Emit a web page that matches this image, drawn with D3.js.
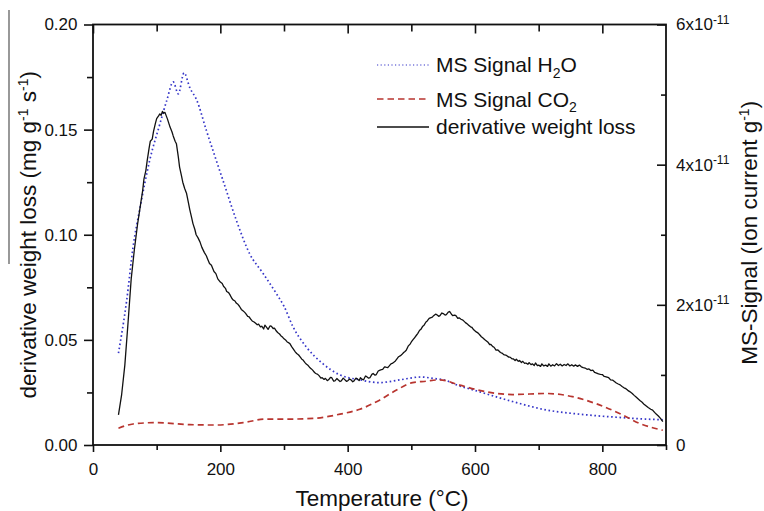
<!DOCTYPE html>
<html>
<head>
<meta charset="utf-8">
<script src="https://cdn.jsdelivr.net/npm/d3@7"></script>
<style>
  html, body { margin: 0; padding: 0; background: #fff; }
  svg { display: block; font-family: "Liberation Sans", Arial, sans-serif; }
</style>
</head>
<body>
<svg id="chart" width="764" height="511"></svg>
<script>
// Derivative weight loss, [temperature °C, mg g^-1 s^-1]
const dtgCurve = [
  [40,0.0143],[45,0.024],[50,0.038],[55,0.058],[60,0.079],[65,0.093],[70,0.105],[73,0.111],
  [75,0.115],[78,0.121],[80,0.1265],[83,0.1305],[85,0.135],[88,0.141],[90,0.1445],[93,0.1455],
  [95,0.149],[98,0.153],[100,0.1552],[103,0.1565],[105,0.1575],[107,0.1568],[109,0.1587],
  [111,0.1578],[113,0.1582],[117,0.155],[121,0.1512],[124,0.149],[126,0.147],[129,0.1445],
  [131,0.1433],[134,0.137],[136,0.1322],[139,0.128],[141,0.125],[144,0.122],[147,0.1196],
  [150,0.115],[152,0.112],[155,0.108],[157,0.1053],[160,0.1025],[162,0.100],[165,0.0985],
  [168,0.0966],[171,0.094],[175,0.0915],[178,0.090],[180,0.0885],[183,0.0863],[186,0.0855],
  [190,0.0825],[193,0.0815],[196,0.079],[200,0.0775],[203,0.0768],[205,0.0755],[208,0.0745],
  [210,0.073],[213,0.0725],[215,0.0715],[218,0.0698],[220,0.069],[223,0.0685],[225,0.0675],
  [228,0.0668],[230,0.066],[233,0.0645],[235,0.064],[238,0.0632],[240,0.0625],[243,0.0612],
  [245,0.061],[248,0.0598],[250,0.059],[253,0.0585],[255,0.058],[258,0.0572],[260,0.0575],
  [263,0.0562],[265,0.0565],[268,0.0552],[270,0.057],[273,0.0558],[275,0.055],[278,0.0566],
  [280,0.0565],[283,0.0554],[285,0.0556],[288,0.0542],[290,0.0535],[293,0.0528],[295,0.052],
  [298,0.0512],[300,0.0505],[303,0.0498],[305,0.049],[307,0.0487],[309,0.0483],[312,0.0468],
  [315,0.0455],[318,0.0442],[320,0.0435],[323,0.0428],[325,0.042],[328,0.0408],[330,0.0404],
  [333,0.0392],[335,0.0385],[338,0.0378],[340,0.037],[343,0.0362],[345,0.0356],[348,0.0345],
  [350,0.034],[353,0.0336],[355,0.033],[358,0.0318],[360,0.032],[363,0.0312],[365,0.0317],
  [368,0.0306],[370,0.031],[373,0.0322],[375,0.032],[378,0.0304],[380,0.0305],[383,0.0316],
  [385,0.031],[388,0.0302],[390,0.0305],[393,0.0318],[395,0.0312],[398,0.0303],[400,0.0305],
  [403,0.0314],[405,0.031],[408,0.0301],[410,0.0305],[413,0.0318],[415,0.0315],[418,0.0306],
  [420,0.032],[423,0.0312],[425,0.031],[428,0.0328],[430,0.0325],[433,0.0318],[435,0.032],
  [438,0.0336],[440,0.034],[443,0.0332],[445,0.0335],[448,0.0352],[450,0.0355],[453,0.0358],
  [455,0.036],[458,0.0372],[460,0.037],[463,0.0368],[465,0.0375],[468,0.0386],[470,0.0388],
  [473,0.0395],[475,0.040],[478,0.0412],[480,0.042],[483,0.0425],[485,0.043],[488,0.044],
  [490,0.0445],[492,0.0451],[495,0.047],[498,0.048],[500,0.049],[503,0.0502],[505,0.051],
  [508,0.0522],[510,0.053],[513,0.0546],[515,0.055],[518,0.0565],[520,0.057],[523,0.0585],
  [525,0.059],[528,0.0602],[530,0.0605],[533,0.0608],[535,0.0615],[538,0.0622],[540,0.062],
  [543,0.0612],[545,0.0615],[548,0.0628],[550,0.0625],[553,0.0618],[555,0.062],[558,0.0632],
  [560,0.0635],[563,0.0622],[565,0.0615],[568,0.0618],[570,0.0615],[573,0.0602],[575,0.0605],
  [578,0.0598],[581,0.0594],[585,0.0582],[588,0.0575],[590,0.057],[593,0.0562],[595,0.056],
  [598,0.0548],[602,0.0538],[605,0.0532],[608,0.0522],[610,0.0515],[613,0.0508],[615,0.0502],
  [618,0.0495],[620,0.049],[623,0.0478],[625,0.0478],[628,0.0468],[630,0.0465],[633,0.0451],
  [636,0.0452],[640,0.044],[643,0.0436],[645,0.043],[648,0.0428],[650,0.0425],[653,0.0418],
  [655,0.0418],[658,0.041],[660,0.041],[663,0.0402],[665,0.0408],[668,0.0398],[670,0.0402],
  [673,0.0392],[675,0.0398],[678,0.0388],[680,0.039],[683,0.0384],[685,0.0392],[688,0.0382],
  [690,0.0386],[693,0.0378],[695,0.039],[698,0.0378],[700,0.038],[703,0.0374],[705,0.0386],
  [708,0.0376],[711,0.038],[714,0.0374],[716,0.0386],[719,0.0375],[722,0.0382],[725,0.0376],
  [728,0.0387],[731,0.0378],[734,0.0384],[737,0.0376],[740,0.0383],[743,0.0378],[746,0.0386],
  [749,0.0376],[752,0.0382],[755,0.0375],[758,0.0381],[761,0.0374],[764,0.038],[767,0.0372],
  [770,0.0368],[773,0.0366],[776,0.036],[779,0.0362],[782,0.0354],[785,0.0356],[788,0.0345],
  [791,0.0342],[794,0.0338],[797,0.0336],[800,0.0335],[803,0.0326],[806,0.0324],[810,0.032],
  [813,0.031],[816,0.0309],[819,0.0302],[822,0.0295],[825,0.029],[828,0.0286],[831,0.0278],
  [834,0.0272],[837,0.0268],[840,0.026],[843,0.0254],[847,0.0245],[850,0.0236],[853,0.0228],
  [856,0.022],[859,0.0212],[862,0.0205],[865,0.0195],[868,0.0188],[872,0.0178],[876,0.017],
  [879,0.0166],[882,0.0155],[885,0.0146],[888,0.0138],[891,0.0128],[895,0.0111]
];

// MS ion current for H2O, [temperature °C, ion current in 1e-11 A g^-1]
const h2oSignal = [
  [40,1.31],[53,2.07],[63,2.83],[74,3.39],[89,4.06],[105,4.58],[116,4.92],[126,5.18],
  [134,5.01],[143,5.31],[152,5.10],[163,4.92],[178,4.49],[204,3.78],[225,3.21],[246,2.73],
  [267,2.45],[288,2.16],[300,1.98],[314,1.69],[335,1.40],[361,1.16],[388,1.00],[419,0.93],
  [450,0.89],[482,0.93],[515,0.97],[534,0.95],[555,0.92],[565,0.88],[607,0.76],[659,0.62],
  [712,0.50],[764,0.44],[816,0.40],[868,0.37],[895,0.36]
];

// MS ion current for CO2, [temperature °C, ion current in 1e-11 A g^-1]
const co2Signal = [
  [40,0.24],[63,0.30],[100,0.32],[152,0.29],[194,0.285],[236,0.32],[272,0.37],[309,0.37],
  [346,0.38],[388,0.44],[419,0.51],[450,0.64],[476,0.78],[502,0.89],[523,0.91],[544,0.93],
  [576,0.855],[607,0.78],[659,0.72],[712,0.735],[753,0.69],[790,0.59],[827,0.45],[858,0.31],
  [895,0.21]
];

// Axis ticks
const tempMajor = [0, 200, 400, 600, 800];
const tempMinor = [100, 300, 500, 700, 900];
const rateMajor = [0, 0.05, 0.10, 0.15, 0.20];
const rateMinor = [0.025, 0.075, 0.125, 0.175];
const ionMajor = [0, 2, 4, 6];
const ionMinor = [1, 3, 5];

const svg = d3.select("#chart");
const plotLeft = 93, plotRight = 666, plotTop = 24.5, plotBottom = 445;

const x = d3.scaleLinear().domain([0, 900]).range([plotLeft, plotRight]);
const yL = d3.scaleLinear().domain([0, 0.2]).range([plotBottom, plotTop]);
const yR = d3.scaleLinear().domain([0, 6]).range([plotBottom, plotTop]);

const tickFont = 17;

function styleAxis(g) {
  g.select(".domain").remove();
  g.selectAll(".tick line").attr("stroke", "#111").attr("stroke-width", 1.6);
  g.selectAll(".tick text").attr("fill", "#111").attr("font-size", tickFont)
    .attr("font-family", "Liberation Sans, Arial, sans-serif");
}

// bottom axis: outward ticks
svg.append("g").attr("transform", `translate(0,${plotBottom})`)
  .call(d3.axisBottom(x).tickValues(tempMajor).tickSize(7).tickPadding(11).tickFormat(d3.format("d")))
  .call(styleAxis);
svg.append("g").attr("transform", `translate(0,${plotBottom})`)
  .call(d3.axisBottom(x).tickValues(tempMinor).tickSize(5).tickFormat(""))
  .call(styleAxis);

// top axis: inward ticks
svg.append("g").attr("transform", `translate(0,${plotTop})`)
  .call(d3.axisBottom(x).tickValues(tempMajor).tickSize(9).tickFormat(""))
  .call(styleAxis);
svg.append("g").attr("transform", `translate(0,${plotTop})`)
  .call(d3.axisBottom(x).tickValues([100, 300, 500, 700]).tickSize(7).tickFormat(""))
  .call(styleAxis);

// left axis: outward ticks
svg.append("g").attr("transform", `translate(${plotLeft},0)`)
  .call(d3.axisLeft(yL).tickValues(rateMajor).tickSize(9).tickPadding(6.5).tickFormat(d3.format(".2f")))
  .call(styleAxis);
svg.append("g").attr("transform", `translate(${plotLeft},0)`)
  .call(d3.axisLeft(yL).tickValues(rateMinor).tickSize(6).tickFormat(""))
  .call(styleAxis);

// right axis: inward ticks, labels outside
const rightAxis = svg.append("g").attr("transform", `translate(${plotRight},0)`)
  .call(d3.axisRight(yR).tickValues(ionMajor).tickSizeInner(-9).tickSizeOuter(0).tickPadding(10).tickFormat(""))
  .call(styleAxis);
rightAxis.selectAll(".tick text").each(function(d) {
  const t = d3.select(this);
  if (d === 0) { t.text("0"); return; }
  t.append("tspan").text(d + "x10");
  t.append("tspan").attr("font-size", 12).attr("dy", "-0.55em").text("-11");
});
svg.append("g").attr("transform", `translate(${plotRight},0)`)
  .call(d3.axisRight(yR).tickValues(ionMinor).tickSizeInner(-5).tickSizeOuter(0).tickFormat(""))
  .call(styleAxis);

// frame
svg.append("rect")
  .attr("x", plotLeft).attr("y", plotTop)
  .attr("width", plotRight - plotLeft).attr("height", plotBottom - plotTop)
  .attr("fill", "none").attr("stroke", "#111").attr("stroke-width", 1.8);

// curves
const lineL = d3.line().x(d => x(d[0])).y(d => yL(d[1]));
const lineR = d3.line().x(d => x(d[0])).y(d => yR(d[1])).curve(d3.curveMonotoneX);

const BLUE = "#3535c8", RED = "#b8352f";

svg.append("path").datum(h2oSignal)
  .attr("d", lineR).attr("fill", "none")
  .attr("stroke", BLUE).attr("stroke-width", 1.7)
  .attr("stroke-dasharray", "1.6 2.6");

svg.append("path").datum(co2Signal)
  .attr("d", lineR).attr("fill", "none")
  .attr("stroke", RED).attr("stroke-width", 1.7)
  .attr("stroke-dasharray", "6 4");

svg.append("path").datum(dtgCurve)
  .attr("d", lineL).attr("fill", "none")
  .attr("stroke", "#111").attr("stroke-width", 1.3)
  .attr("stroke-linejoin", "round");

// legend
const legend = svg.append("g").attr("font-size", 21).attr("fill", "#111");
const legendItems = [
  { y: 65, base: 72, color: BLUE, dash: "1.2 2.4", width: 1.1, label: ["MS Signal H", "2", "O"] },
  { y: 99, base: 106.5, color: RED, dash: "6.5 4", width: 1.3, label: ["MS Signal CO", "2", ""] },
  { y: 127, base: 133.5, color: "#111", dash: null, width: 1.3, label: ["derivative weight loss", "", ""] }
];
legendItems.forEach(it => {
  legend.append("line")
    .attr("x1", 377).attr("x2", 429).attr("y1", it.y).attr("y2", it.y)
    .attr("stroke", it.color).attr("stroke-width", it.width)
    .attr("stroke-dasharray", it.dash);
  const t = legend.append("text").attr("x", 436).attr("y", it.base);
  t.append("tspan").text(it.label[0]);
  if (it.label[1]) {
    t.append("tspan").attr("font-size", 14).attr("dy", "0.4em").text(it.label[1]);
    if (it.label[2]) t.append("tspan").attr("dy", "-0.26em").text(it.label[2]);
  }
});

// axis titles
svg.append("text")
  .attr("x", 382).attr("y", 506)
  .attr("text-anchor", "middle").attr("font-size", 22.5).attr("fill", "#111")
  .text("Temperature (°C)");

const lt = svg.append("text")
  .attr("transform", `translate(36,${(plotTop + plotBottom) / 2}) rotate(-90)`)
  .attr("text-anchor", "middle").attr("font-size", 22.5).attr("fill", "#111");
lt.append("tspan").text("derivative weight loss (mg g");
lt.append("tspan").attr("font-size", 14).attr("dy", "-0.6em").text("-1");
lt.append("tspan").attr("dy", "0.37em").text(" s");
lt.append("tspan").attr("font-size", 14).attr("dy", "-0.6em").text("-1");
lt.append("tspan").attr("dy", "0.37em").text(")");

const rt = svg.append("text")
  .attr("transform", `translate(757,${(plotTop + plotBottom) / 2 - 2}) rotate(-90)`)
  .attr("text-anchor", "middle").attr("font-size", 22.5).attr("fill", "#111");
rt.append("tspan").text("MS-Signal (Ion current g");
rt.append("tspan").attr("font-size", 14).attr("dy", "-0.6em").text("-1");
rt.append("tspan").attr("dy", "0.37em").text(")");

// thin rule beside the left title
svg.append("line")
  .attr("x1", 9).attr("x2", 9).attr("y1", 10).attr("y2", 264)
  .attr("stroke", "#444").attr("stroke-width", 1.1);
</script>
</body>
</html>
